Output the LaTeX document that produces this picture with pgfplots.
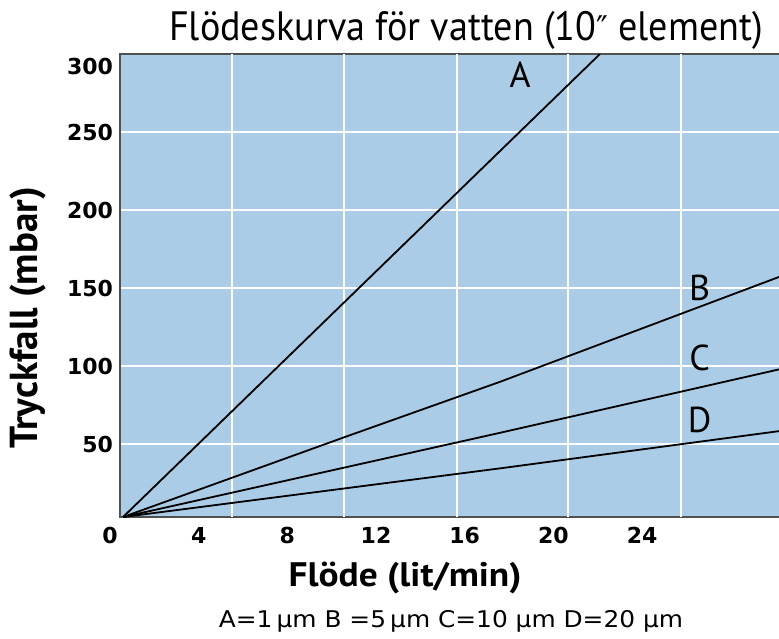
\documentclass[border=0pt]{standalone}
\usepackage{fontspec}
\setmainfont{PT Sans}
\newfontfamily\dejavu{DejaVu Sans}
\usepackage{pgfplots}
\pgfplotsset{compat=1.18}
\definecolor{bgblue}{RGB}{170,204,230}
\definecolor{framegray}{RGB}{80,80,80}
\begin{document}
\begin{tikzpicture}
\useasboundingbox (-60pt,-60.5pt) rectangle (329.5pt,258.5pt);
\begin{axis}[
  at={(0,0)}, anchor=south west, scale only axis,
  width=331.5pt, height=231.5pt,
  xmin=0.451, xmax=30.357, ymin=3.2, ymax=300,
  axis background/.style={fill=bgblue},
  axis line style={framegray, line width=0.7pt},
  tick style={draw=none},
  /pgf/number format/assume math mode=true,
  xtick={0.5,4.5,8.5,12.5,16.5,20.5,24.5},
  xticklabels={0,4,8,12,16,20,24},
  xticklabel style={xshift=-5.54pt, yshift=-1.5pt, font=\dejavu\fontsize{11}{11}\selectfont\bfseries},
  ytick={50,100,150,200,250},
  yticklabel style={font=\dejavu\fontsize{11}{11}\selectfont\bfseries},
  ymajorgrids=true,
  major grid style={white, line width=1.3pt},
  extra y ticks={291.7}, extra y tick labels={300},
  extra y tick style={ymajorgrids=false},
  extra x ticks={5.5,10.55,15.65,20.66,25.76}, extra x tick labels={},
  extra x tick style={xmajorgrids=true},
  every axis title shift=0pt,
  title={Flödeskurva för vatten (10{\dejavu\fontsize{17}{17}\selectfont″} element)},
  title style={at={(axis description cs:0.522,1.05)}, anchor=center, xscale=0.93, font=\fontsize{20.5}{20.5}\selectfont},
  xlabel={Flöde (lit/min)},
  xlabel style={at={(axis description cs:0.43,-0.1318)}, anchor=center, xscale=1.1, font=\fontsize{17}{17}\selectfont\bfseries},
  ylabel={Tryckfall (mbar)},
  ylabel style={at={(axis description cs:-0.1388,0.43)}, anchor=center, font=\fontsize{19.5}{19.5}\selectfont\bfseries},
]
\addplot[black, line width=0.9pt] coordinates {(0.59,3.2) (22.1,300)};
\addplot[black, line width=0.9pt] coordinates {(0.59,3.2) (10.6,54.5) (17.6,89.9) (30.2,157.2)};
\addplot[black, line width=0.9pt] coordinates {(0.59,3.2) (17.6,57.2) (30.2,97.9)};
\addplot[black, line width=0.9pt] coordinates {(0.59,3.2) (17.6,34.4) (30.2,58.3)};
\node[font=\fontsize{18}{18}\selectfont] at (axis cs:18.5,286.5) {A};
\node[font=\fontsize{18}{18}\selectfont] at (axis cs:26.6,150) {B};
\node[font=\fontsize{18}{18}\selectfont] at (axis cs:26.6,105) {C};
\node[font=\fontsize{18}{18}\selectfont] at (axis cs:26.6,65.4) {D};
\end{axis}
\node[font=\dejavu\fontsize{11.5}{11.5}\selectfont, xscale=1.08] at (165.5pt,-52pt) {A=1\,µm B =5\,µm C=10 µm D=20 µm};
\end{tikzpicture}
\end{document}
